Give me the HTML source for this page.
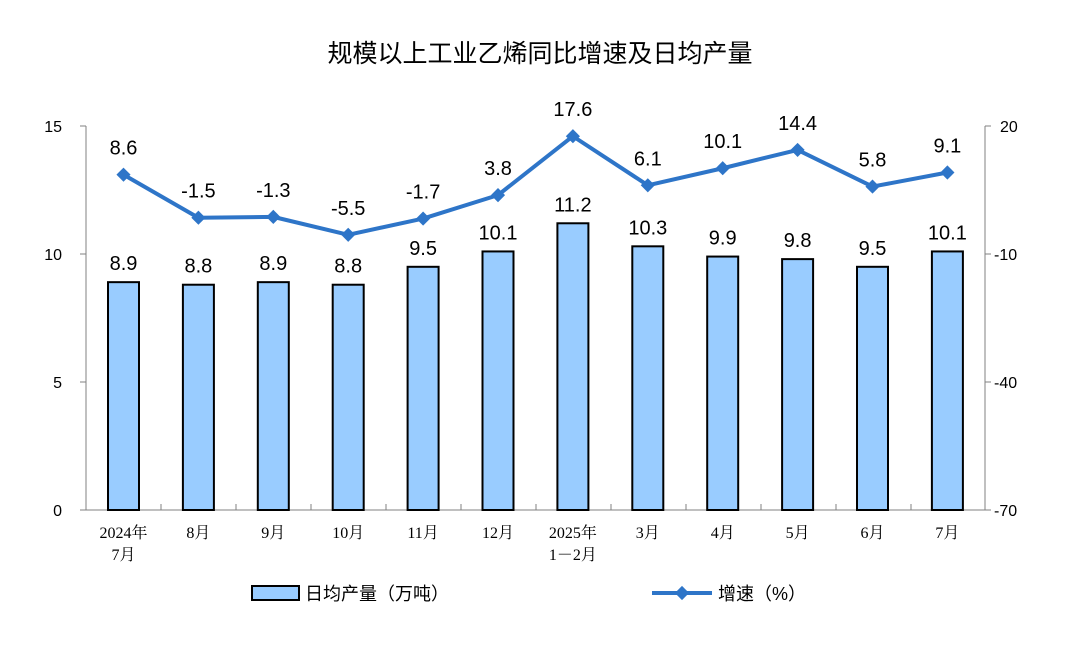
<!DOCTYPE html>
<html><head><meta charset="utf-8"><style>body{margin:0;background:#fff}svg{display:block}</style></head><body>
<svg width="1080" height="667" xmlns="http://www.w3.org/2000/svg" font-family="'Liberation Sans','Noto Sans CJK SC',sans-serif">
<text x="540" y="62" text-anchor="middle" font-size="25" fill="#000">规模以上工业乙烯同比增速及日均产量</text>
<g stroke="#808080" stroke-width="1" fill="none">
<path d="M86 126 V510 H985 V126"/>
<path d="M80 126H86M80 254H86M80 382H86M80 510H86"/>
<path d="M985 126H991M985 254H991M985 382H991M985 510H991"/>
<path d="M161 510v-6M236 510v-6M311 510v-6M386 510v-6M461 510v-6M536 510v-6M611 510v-6M686 510v-6M761 510v-6M836 510v-6M911 510v-6"/>
</g>
<g font-size="16" fill="#000" text-anchor="end">
<text x="62" y="132">15</text><text x="62" y="260">10</text><text x="62" y="388">5</text><text x="62" y="516">0</text>
</g>
<g font-size="16" fill="#000" text-anchor="start">
<text x="1000" y="132">20</text><text x="994" y="260">-10</text><text x="994" y="388">-40</text><text x="994" y="516">-70</text>
</g>
<g id="bars" fill="#99ccff" stroke="#000" stroke-width="2"></g>
<g id="blab" font-size="20" text-anchor="middle" fill="#000"></g>
<g id="xl" font-family="'Liberation Serif','Noto Serif CJK SC',serif" font-size="16" text-anchor="middle" fill="#000"></g>
<polyline id="ln" fill="none" stroke="#2e75c8" stroke-width="4" stroke-linejoin="round"/>
<g id="mk" fill="#2e75c8"></g>
<g id="llab" font-size="20" text-anchor="middle" fill="#000"></g>
<rect x="252" y="586" width="47" height="14" fill="#99ccff" stroke="#000" stroke-width="2"/>
<text x="305" y="600" font-size="18" fill="#000">日均产量（万吨）</text>
<line x1="652" y1="593" x2="712" y2="593" stroke="#2e75c8" stroke-width="4"/>
<rect x="677" y="588" width="10" height="10" fill="#2e75c8" transform="rotate(45 682 593)"/>
<text x="718" y="600" font-size="18" fill="#000">增速（%）</text>
<script>
var p=[8.9,8.8,8.9,8.8,9.5,10.1,11.2,10.3,9.9,9.8,9.5,10.1];
var g=[8.6,-1.5,-1.3,-5.5,-1.7,3.8,17.6,6.1,10.1,14.4,5.8,9.1];
var xl=[["2024年","7月"],["8月"],["9月"],["10月"],["11月"],["12月"],["2025年","1－2月"],["3月"],["4月"],["5月"],["6月"],["7月"]];
var ns="http://www.w3.org/2000/svg",pts=[];
function el(t,a,par,txt){var e=document.createElementNS(ns,t);for(var k in a)e.setAttribute(k,a[k]);if(txt!=null)e.textContent=txt;document.getElementById(par).appendChild(e);return e;}
for(var i=0;i<12;i++){
 var cx=123.5+i*74.9,ty=510-p[i]*25.6;
 el("rect",{x:cx-15.5,y:ty,width:31,height:510-ty},"bars");
 el("text",{x:cx,y:ty-12},"blab",p[i].toFixed(1));
 el("text",{x:cx,y:538},"xl",xl[i][0]);
 if(xl[i][1])el("text",{x:cx,y:560},"xl",xl[i][1]);
 var ly=126+(20-g[i])*384/90;pts.push(cx+","+ly);
 el("rect",{x:cx-5,y:ly-5,width:10,height:10,transform:"rotate(45 "+cx+" "+ly+")"},"mk");
 el("text",{x:cx,y:ly-20},"llab",g[i].toFixed(1));
}
document.getElementById("ln").setAttribute("points",pts.join(" "));
</script>
</svg>
</body></html>
